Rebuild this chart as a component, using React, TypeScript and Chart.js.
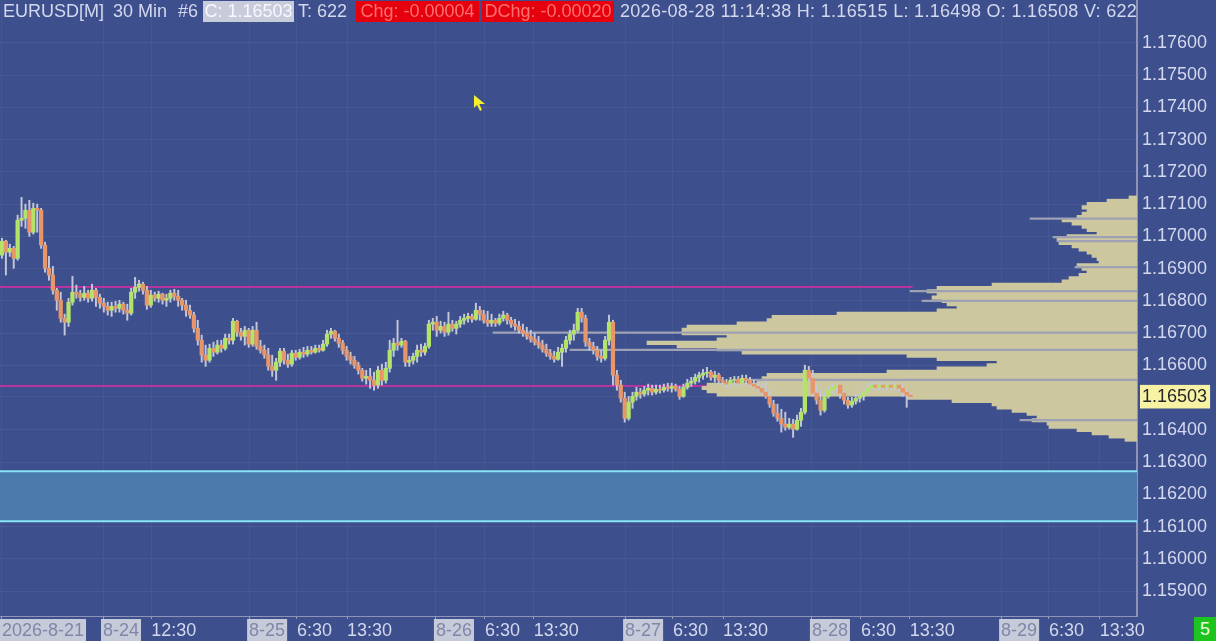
import React, { useEffect, useRef } from "react";
import { Chart, registerables } from "chart.js";

Chart.register(...registerables);

// ---------------- DATA ----------------
const FIRST_OPEN = 1.16942;

const closes = [
  1.16985, 1.16951, 1.16963, 1.16932, 1.17050, 1.17056, 1.17081, 1.17013, 1.17087, 1.17081,
  1.16973, 1.16901, 1.16880, 1.16833, 1.16802, 1.16746, 1.16734, 1.16796, 1.16827, 1.16821,
  1.16811, 1.16824, 1.16808, 1.16833, 1.16811, 1.16793, 1.16783, 1.16771, 1.16783, 1.16777,
  1.16790, 1.16771, 1.16762, 1.16827, 1.16842, 1.16852, 1.16833, 1.16787, 1.16818, 1.16808,
  1.16821, 1.16802, 1.16808, 1.16824, 1.16814, 1.16802, 1.16787, 1.16771, 1.16756, 1.16715,
  1.16678, 1.16632, 1.16616, 1.16653, 1.16641, 1.16663, 1.16653, 1.16684, 1.16678, 1.16737,
  1.16703, 1.16690, 1.16709, 1.16666, 1.16709, 1.16659, 1.16647, 1.16632, 1.16597, 1.16585,
  1.16610, 1.16644, 1.16616, 1.16604, 1.16638, 1.16625, 1.16641, 1.16635, 1.16647, 1.16641,
  1.16653, 1.16647, 1.16666, 1.16697, 1.16706, 1.16684, 1.16669, 1.16647, 1.16628, 1.16616,
  1.16601, 1.16585, 1.16560, 1.16566, 1.16554, 1.16539, 1.16585, 1.16554, 1.16591, 1.16647,
  1.16669, 1.16663, 1.16675, 1.16610, 1.16616, 1.16628, 1.16647, 1.16641, 1.16659, 1.16728,
  1.16734, 1.16709, 1.16721, 1.16703, 1.16728, 1.16715, 1.16728, 1.16740, 1.16746, 1.16752,
  1.16743, 1.16771, 1.16759, 1.16740, 1.16731, 1.16740, 1.16731, 1.16746, 1.16756, 1.16740,
  1.16728, 1.16721, 1.16709, 1.16700, 1.16690, 1.16681, 1.16672, 1.16663, 1.16650, 1.16638,
  1.16628, 1.16619, 1.16641, 1.16653, 1.16678, 1.16697, 1.16709, 1.16765, 1.16746, 1.16672,
  1.16659, 1.16647, 1.16628, 1.16622, 1.16678, 1.16734, 1.16570, 1.16539, 1.16498, 1.16436,
  1.16486, 1.16504, 1.16517, 1.16511, 1.16523, 1.16529, 1.16517, 1.16526, 1.16523, 1.16532,
  1.16529, 1.16535, 1.16526, 1.16504, 1.16532, 1.16545, 1.16551, 1.16563, 1.16570, 1.16576,
  1.16579, 1.16563, 1.16570, 1.16554, 1.16548, 1.16542, 1.16554, 1.16557, 1.16545, 1.16560,
  1.16554, 1.16542, 1.16535, 1.16529, 1.16517, 1.16504, 1.16480, 1.16452, 1.16436, 1.16418,
  1.16408, 1.16418, 1.16402, 1.16430, 1.16455, 1.16585, 1.16560, 1.16514, 1.16492, 1.16461,
  1.16504, 1.16523, 1.16532, 1.16539, 1.16514, 1.16492, 1.16477, 1.16489, 1.16498, 1.16504,
  1.16517, 1.16529, 1.16539, 1.16532, 1.16539, 1.16532, 1.16539, 1.16532, 1.16539, 1.16529,
  1.16517, 1.16508, 1.16503,
];

const highs = [
  1.16994, 1.16988, 1.16976, 1.16969, 1.17066, 1.17121, 1.17100, 1.17112, 1.17103, 1.17100,
  1.17087, 1.16982, 1.16938, 1.16907, 1.16839, 1.16827, 1.16759, 1.16808, 1.16876, 1.16849,
  1.16833, 1.16845, 1.16833, 1.16852, 1.16839, 1.16821, 1.16808, 1.16796, 1.16796, 1.16799,
  1.16802, 1.16796, 1.16790, 1.16839, 1.16873, 1.16864, 1.16858, 1.16845, 1.16833, 1.16827,
  1.16830, 1.16824, 1.16821, 1.16833, 1.16836, 1.16833, 1.16808, 1.16802, 1.16787, 1.16765,
  1.16740, 1.16694, 1.16663, 1.16666, 1.16672, 1.16678, 1.16678, 1.16697, 1.16697, 1.16746,
  1.16740, 1.16715, 1.16721, 1.16715, 1.16721, 1.16734, 1.16678, 1.16663, 1.16653, 1.16632,
  1.16622, 1.16653, 1.16653, 1.16635, 1.16647, 1.16647, 1.16650, 1.16656, 1.16659, 1.16659,
  1.16663, 1.16663, 1.16678, 1.16709, 1.16715, 1.16709, 1.16697, 1.16678, 1.16659, 1.16641,
  1.16628, 1.16610, 1.16591, 1.16585, 1.16591, 1.16579, 1.16597, 1.16604, 1.16610, 1.16678,
  1.16684, 1.16740, 1.16684, 1.16678, 1.16628, 1.16638, 1.16663, 1.16666, 1.16669, 1.16740,
  1.16746, 1.16752, 1.16737, 1.16734, 1.16765, 1.16740, 1.16737, 1.16752, 1.16759, 1.16762,
  1.16759, 1.16793, 1.16783, 1.16771, 1.16768, 1.16759, 1.16746, 1.16759, 1.16768, 1.16762,
  1.16749, 1.16743, 1.16737, 1.16728, 1.16718, 1.16709, 1.16700, 1.16690, 1.16678, 1.16666,
  1.16650, 1.16644, 1.16656, 1.16666, 1.16690, 1.16709, 1.16728, 1.16777, 1.16777, 1.16756,
  1.16684, 1.16672, 1.16659, 1.16647, 1.16690, 1.16756, 1.16740, 1.16585, 1.16554, 1.16517,
  1.16504, 1.16517, 1.16532, 1.16529, 1.16535, 1.16542, 1.16539, 1.16539, 1.16539, 1.16542,
  1.16545, 1.16545, 1.16542, 1.16535, 1.16542, 1.16557, 1.16563, 1.16573, 1.16579, 1.16588,
  1.16594, 1.16585, 1.16582, 1.16576, 1.16563, 1.16557, 1.16563, 1.16566, 1.16566, 1.16570,
  1.16570, 1.16563, 1.16554, 1.16548, 1.16542, 1.16551, 1.16523, 1.16492, 1.16480, 1.16464,
  1.16455, 1.16436, 1.16433, 1.16446, 1.16467, 1.16601, 1.16597, 1.16585, 1.16539, 1.16523,
  1.16517, 1.16535, 1.16542, 1.16545, 1.16539, 1.16520, 1.16501, 1.16501, 1.16511, 1.16514,
  1.16529, 1.16542, 1.16548, 1.16548, 1.16545, 1.16548, 1.16545, 1.16545, 1.16548, 1.16545,
  1.16539, 1.16523, 1.16515,
];

const lows = [
  1.16932, 1.16880, 1.16938, 1.16901, 1.16926, 1.17031, 1.17025, 1.17000, 1.17007, 1.17013,
  1.16963, 1.16889, 1.16864, 1.16821, 1.16771, 1.16734, 1.16694, 1.16721, 1.16787, 1.16808,
  1.16799, 1.16802, 1.16796, 1.16799, 1.16783, 1.16777, 1.16765, 1.16756, 1.16752, 1.16765,
  1.16765, 1.16759, 1.16740, 1.16756, 1.16808, 1.16830, 1.16821, 1.16774, 1.16780, 1.16799,
  1.16796, 1.16790, 1.16783, 1.16796, 1.16802, 1.16783, 1.16771, 1.16752, 1.16746, 1.16703,
  1.16663, 1.16610, 1.16597, 1.16610, 1.16628, 1.16635, 1.16641, 1.16647, 1.16666, 1.16666,
  1.16690, 1.16678, 1.16663, 1.16656, 1.16659, 1.16650, 1.16638, 1.16622, 1.16585, 1.16566,
  1.16554, 1.16597, 1.16604, 1.16594, 1.16597, 1.16616, 1.16619, 1.16625, 1.16628, 1.16635,
  1.16638, 1.16641, 1.16644, 1.16659, 1.16684, 1.16675, 1.16656, 1.16635, 1.16616, 1.16604,
  1.16591, 1.16573, 1.16551, 1.16542, 1.16529, 1.16523, 1.16529, 1.16539, 1.16545, 1.16579,
  1.16628, 1.16647, 1.16656, 1.16597, 1.16597, 1.16604, 1.16610, 1.16628, 1.16632, 1.16653,
  1.16709, 1.16690, 1.16700, 1.16690, 1.16694, 1.16706, 1.16697, 1.16718, 1.16728, 1.16734,
  1.16734, 1.16740, 1.16740, 1.16731, 1.16721, 1.16721, 1.16721, 1.16725, 1.16737, 1.16728,
  1.16718, 1.16709, 1.16700, 1.16690, 1.16681, 1.16672, 1.16663, 1.16653, 1.16641, 1.16628,
  1.16619, 1.16610, 1.16616, 1.16597, 1.16641, 1.16666, 1.16678, 1.16703, 1.16734, 1.16659,
  1.16647, 1.16635, 1.16616, 1.16610, 1.16616, 1.16663, 1.16539, 1.16523, 1.16486, 1.16424,
  1.16430, 1.16467, 1.16492, 1.16498, 1.16504, 1.16508, 1.16508, 1.16511, 1.16514, 1.16517,
  1.16520, 1.16517, 1.16520, 1.16495, 1.16501, 1.16526, 1.16535, 1.16542, 1.16548, 1.16557,
  1.16563, 1.16554, 1.16548, 1.16545, 1.16539, 1.16532, 1.16529, 1.16539, 1.16535, 1.16539,
  1.16542, 1.16535, 1.16529, 1.16520, 1.16508, 1.16498, 1.16470, 1.16442, 1.16427, 1.16393,
  1.16399, 1.16402, 1.16377, 1.16399, 1.16411, 1.16449, 1.16551, 1.16504, 1.16480, 1.16446,
  1.16455, 1.16498, 1.16511, 1.16517, 1.16498, 1.16480, 1.16467, 1.16470, 1.16480, 1.16486,
  1.16492, 1.16511, 1.16523, 1.16523, 1.16523, 1.16523, 1.16523, 1.16523, 1.16526, 1.16517,
  1.16504, 1.16470, 1.16498,
];

// volume profile (price row -> volume)
const profilePrices = [
  1.1712, 1.1711, 1.1710, 1.1709, 1.1708, 1.1707, 1.1706, 1.1705, 1.1704, 1.1703,
  1.1702, 1.1701, 1.1700, 1.1699, 1.1698, 1.1697, 1.1696, 1.1695, 1.1694, 1.1693,
  1.1692, 1.1691, 1.1690, 1.1689, 1.1688, 1.1687, 1.1686, 1.1685, 1.1684, 1.1683,
  1.1682, 1.1681, 1.1680, 1.1679, 1.1678, 1.1677, 1.1676, 1.1675, 1.1674, 1.1673,
  1.1672, 1.1671, 1.1670, 1.1669, 1.1668, 1.1667, 1.1666, 1.1665, 1.1664, 1.1663,
  1.1662, 1.1661, 1.1660, 1.1659, 1.1658, 1.1657, 1.1656, 1.1655, 1.1654, 1.1653,
  1.1652, 1.1651, 1.1650, 1.1649, 1.1648, 1.1647, 1.1646, 1.1645, 1.1644, 1.1643,
  1.1642, 1.1641, 1.1640, 1.1639, 1.1638, 1.1637,
];
const profileVolumes = [
  8, 30, 50, 55, 50, 55, 60, 75, 65, 55,
  50, 40, 70, 80, 78, 65, 58, 50, 45, 40,
  38, 60, 55, 50, 58, 68, 75, 145, 200, 210,
  200, 205, 195, 190, 180, 200, 300, 365, 370, 400,
  450, 455, 455, 410, 420, 490, 460, 420, 395, 230,
  200, 140, 150, 200, 250, 370, 375, 380, 430, 435,
  430, 420, 230, 185, 145, 140, 125, 110, 100, 105,
  90, 88, 60, 45, 28, 12,
];
const profileLinePrices = [1.17055, 1.16998, 1.16985, 1.16905, 1.1683, 1.168, 1.16702, 1.16648, 1.16555, 1.1643];
const profileLineVolumes = [107, 84, 79, 62, 227, 215, 644, 567, 395, 117];
const PROFILE_SCALE_MAX = 1137;

// levels
const upperLevel = 1.16843;
const lowerLevel = 1.16536;
const levelEndBar = 232.5;
const zoneTop = 1.16272;
const zoneBottom = 1.16117;

// axes
const X_MIN = -0.5;
const X_MAX = 289.8;
const Y_MIN = 1.15823;
const Y_MAX = 1.17733;
const xTickValues = [0, 25.8, 38.1, 63.1, 75.3, 88.1, 110.8, 123.3, 135.8, 159.1, 171.3, 184.1, 206.8, 219.3, 231.8, 255.1, 267.3, 280.3];
const xTickLabels = ["2026-8-21", "8-24", "12:30", "8-25", "6:30", "13:30", "8-26", "6:30", "13:30", "8-27", "6:30", "13:30", "8-28", "6:30", "13:30", "8-29", "6:30", "13:30"];
const CURRENT_PRICE = 1.16503;
const yTickValues = [
  1.159, 1.16, 1.161, 1.162, 1.163, 1.164, CURRENT_PRICE, 1.166, 1.167, 1.168,
  1.169, 1.17, 1.171, 1.172, 1.173, 1.174, 1.175, 1.176,
];

const headerTexts = [
  "EURUSD[M]",
  "30 Min",
  "#6",
  "C: 1.16503",
  "T: 622",
  "Chg: -0.00004",
  "DChg: -0.00020",
  "2026-08-28 11:14:38 H: 1.16515 L: 1.16498 O: 1.16508 V: 622",
];
const STATUS_TEXT = "5";

// ---------------- STYLE ----------------
const FONT = "'Liberation Sans', Arial, Helvetica, sans-serif";
const BG = "#3d4f8c";
const TEXT = "#d3d8ee";
const headerLayout = [
  { left: 3 },
  { left: 113 },
  { left: 178 },
  { left: 203, width: 91, bg: "#c8ccda", color: "#f6f7ff" },
  { left: 298 },
  { left: 356, width: 123, bg: "#e6000e", color: "#ff6f6f" },
  { left: 482, width: 132, bg: "#e6000e", color: "#ff6f6f" },
  { left: 620, spacing: 0.3 },
];

export default function App() {
  const ref = useRef<HTMLCanvasElement>(null);

  useEffect(() => {
    const canvas = ref.current;
    if (!canvas) return;
    const opens = closes.map((c, i) => (i === 0 ? FIRST_OPEN : closes[i - 1]));
    const isDate = (i: number) => (xTickLabels[i] || "").includes("-");

    const bgPlugin = {
      id: "bgFill",
      beforeDraw(chart: any) {
        const { ctx, width, height } = chart;
        ctx.save();
        ctx.fillStyle = BG;
        ctx.fillRect(0, 0, width, height);
        ctx.restore();
      },
    };

    const chart = new Chart(canvas, {
      type: "bar",
      data: {
        datasets: [
          {
            type: "line",
            label: "zoneTop",
            data: [{ x: X_MIN, y: zoneTop }, { x: X_MAX, y: zoneTop }],
            borderColor: "#86e4f6",
            borderWidth: 2,
            pointRadius: 0,
            fill: false,
            order: 9,
            xAxisID: "x",
            yAxisID: "y",
          } as any,
          {
            type: "line",
            label: "zoneBottom",
            data: [{ x: X_MIN, y: zoneBottom }, { x: X_MAX, y: zoneBottom }],
            borderColor: "#86e4f6",
            borderWidth: 2,
            pointRadius: 0,
            fill: "-1",
            backgroundColor: "#4b7bad",
            order: 10,
            xAxisID: "x",
            yAxisID: "y",
          } as any,
          {
            type: "line",
            label: "upper",
            data: [{ x: X_MIN, y: upperLevel }, { x: levelEndBar, y: upperLevel }],
            borderColor: "#b8359f",
            borderWidth: 2,
            pointRadius: 0,
            fill: false,
            order: 8,
            xAxisID: "x",
            yAxisID: "y",
          } as any,
          {
            type: "line",
            label: "lower",
            data: [{ x: X_MIN, y: lowerLevel }, { x: levelEndBar, y: lowerLevel }],
            borderColor: "#b8359f",
            borderWidth: 2,
            pointRadius: 0,
            fill: false,
            order: 8,
            xAxisID: "x",
            yAxisID: "y",
          } as any,
          {
            type: "bar",
            label: "profile",
            indexAxis: "y",
            data: profilePrices.map((p, i) => ({ x: profileVolumes[i], y: p })),
            backgroundColor: "#ccc79f",
            borderWidth: 0,
            barThickness: 3.5,
            grouped: false,
            order: 7,
            xAxisID: "xv",
            yAxisID: "y",
          } as any,
          {
            type: "bar",
            label: "profileLines",
            indexAxis: "y",
            data: profileLinePrices.map((p, i) => ({ x: profileLineVolumes[i], y: p })),
            backgroundColor: "#9da1b3",
            borderWidth: 0,
            barThickness: 1.6,
            grouped: false,
            order: 6,
            xAxisID: "xv",
            yAxisID: "y",
          } as any,
          {
            type: "bar",
            label: "wicks",
            data: closes.map((_, i) => ({ x: i, y: [lows[i], highs[i]] })),
            backgroundColor: "#c4c7d8",
            borderWidth: 0,
            barThickness: 1.3,
            grouped: false,
            order: 2,
            xAxisID: "x",
            yAxisID: "y",
          } as any,
          {
            type: "bar",
            label: "bodies",
            data: closes.map((c, i) => ({ x: i, y: [opens[i], c] })),
            backgroundColor: closes.map((c, i) => (c >= opens[i] ? "#b4e36a" : "#e8956a")),
            borderWidth: 0,
            barThickness: 3.6,
            grouped: false,
            order: 1,
            xAxisID: "x",
            yAxisID: "y",
          } as any,
        ],
      },
      options: {
        responsive: false,
        animation: false,
        devicePixelRatio: 1,
        layout: { padding: 0 },
        plugins: { legend: { display: false }, tooltip: { enabled: false } },
        scales: {
          x: {
            type: "linear",
            position: "bottom",
            min: X_MIN,
            max: X_MAX,
            offset: false,
            afterBuildTicks: (s: any) => {
              s.ticks = xTickValues.map((v) => ({ value: v }));
            },
            afterFit: (s: any) => {
              s.height = 25;
              s.paddingLeft = 0;
              s.paddingRight = 0;
            },
            grid: {
              offset: false,
              color: "rgba(255,255,255,0.045)",
              drawTicks: true,
              tickLength: 3,
              tickColor: "#9ba1c2",
            },
            border: { display: true, color: "#8e94b6", width: 1 },
            ticks: {
              autoSkip: false,
              maxRotation: 0,
              minRotation: 0,
              align: "start",
              padding: 1,
              font: { family: FONT, size: 18 },
              color: (ctx: any) => (isDate(ctx.index) ? "#7e87a9" : TEXT),
              showLabelBackdrop: true,
              backdropColor: (ctx: any) => (isDate(ctx.index) ? "#c7cbd9" : "rgba(0,0,0,0)"),
              backdropPadding: { top: 1, bottom: 2, left: 2, right: 2 },
              callback: (_v: any, i: number) => xTickLabels[i],
            },
          },
          xv: {
            type: "linear",
            axis: "x",
            display: false,
            reverse: true,
            min: 0,
            max: PROFILE_SCALE_MAX,
            offset: false,
            grid: { offset: false },
          },
          y: {
            type: "linear",
            position: "right",
            min: Y_MIN,
            max: Y_MAX,
            beginAtZero: false,
            offset: false,
            afterBuildTicks: (s: any) => {
              s.ticks = yTickValues.map((v) => ({ value: v }));
            },
            afterFit: (s: any) => {
              s.width = 79;
              s.paddingTop = 0;
              s.paddingBottom = 0;
            },
            grid: { offset: false, color: "rgba(255,255,255,0.06)", drawTicks: false },
            border: { display: true, color: "#8e94b6", width: 2 },
            ticks: {
              padding: 5,
              font: { family: FONT, size: 18 },
              color: (ctx: any) => (ctx.tick && ctx.tick.value === CURRENT_PRICE ? "#26262a" : TEXT),
              showLabelBackdrop: true,
              backdropColor: (ctx: any) =>
                ctx.tick && ctx.tick.value === CURRENT_PRICE ? "#f7f2a4" : "rgba(0,0,0,0)",
              backdropPadding: { top: 1, bottom: 1, left: 2, right: 3 },
              callback: (v: any) => Number(v).toFixed(5),
            },
          },
        },
      } as any,
      plugins: [bgPlugin],
    });
    return () => chart.destroy();
  }, []);

  return (
    <div
      style={{
        position: "fixed",
        left: 0,
        top: 0,
        width: 1216,
        height: 641,
        background: BG,
        overflow: "hidden",
      }}
    >
      <canvas ref={ref} width={1216} height={641} style={{ display: "block", width: 1216, height: 641 }} />
      <div
        style={{
          position: "absolute",
          left: 0,
          top: 0,
          width: 1137,
          height: 24,
          overflow: "hidden",
          fontFamily: FONT,
          fontSize: 18,
          color: TEXT,
          whiteSpace: "nowrap",
        }}
      >
        {headerTexts.map((t, i) => {
          const l: any = headerLayout[i];
          return (
            <span
              key={i}
              style={{
                position: "absolute",
                top: 1,
                left: l.left,
                width: l.width,
                height: 21,
                lineHeight: "21px",
                background: l.bg || "transparent",
                color: l.color || TEXT,
                letterSpacing: l.spacing ? l.spacing : 0,
                textAlign: l.width ? "center" : "left",
                boxSizing: "border-box",
              }}
            >
              {t}
            </span>
          );
        })}
      </div>
      <div
        style={{
          position: "absolute",
          left: 474,
          top: 95,
          width: 11,
          height: 16,
          background: "#f4ee2e",
          clipPath: "polygon(0 0, 0 80%, 28% 62%, 55% 100%, 72% 92%, 48% 56%, 100% 56%)",
        }}
      />
      <div
        style={{
          position: "absolute",
          left: 1194,
          top: 617,
          width: 22,
          height: 24,
          background: "#1ec41e",
          color: "#eaffea",
          fontFamily: FONT,
          fontSize: 18,
          lineHeight: "24px",
          textAlign: "center",
        }}
      >
        {STATUS_TEXT}
      </div>
    </div>
  );
}
